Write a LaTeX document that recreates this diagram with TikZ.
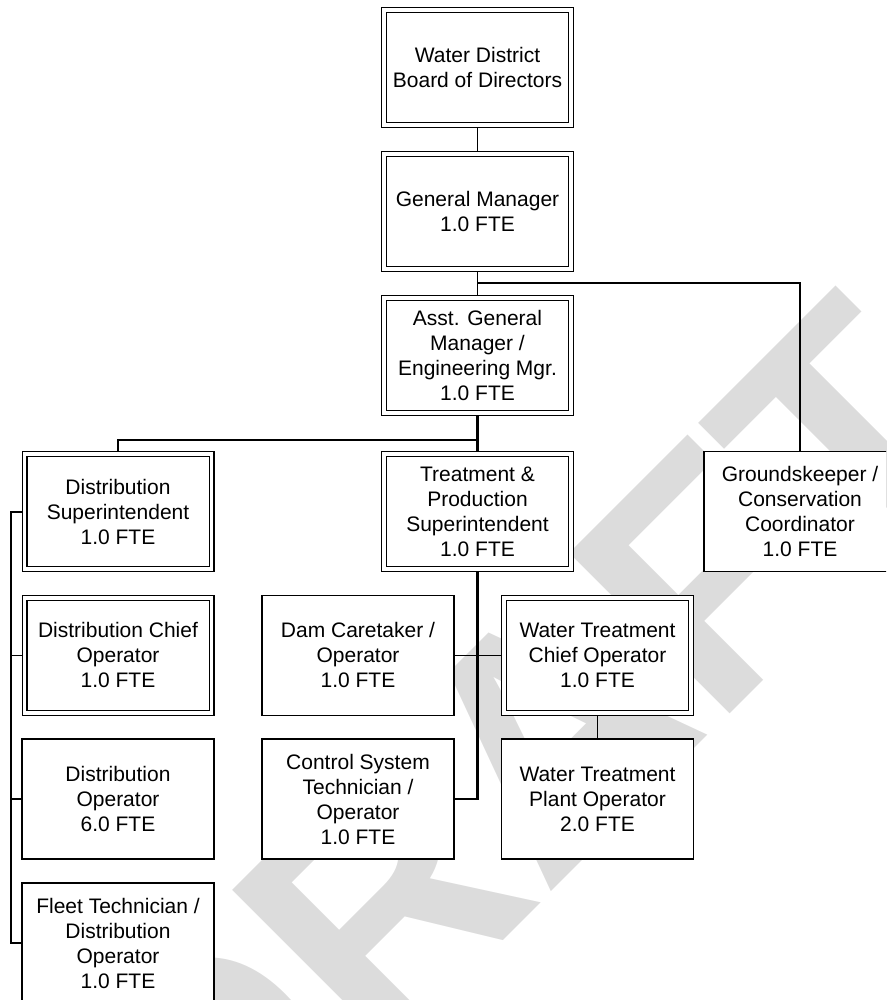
\documentclass[tikz,border=0pt]{standalone}
\usepackage{fontspec}
\setmainfont{Liberation Sans}
\pgfdeclarelayer{watermark}
\pgfdeclarelayer{wires}
\pgfsetlayers{watermark,wires,main}
\definecolor{wmgray}{RGB}{220,220,220}
\begin{document}
\begin{tikzpicture}[x=1pt,y=-1pt,
  every node/.style={font=\fontsize{21}{25}\selectfont, align=center},
  single/.style={draw, fill=white, line width=1.5pt, minimum width=192pt,
    minimum height=120pt, inner sep=0pt},
  twin/.style={draw, fill=white, double, double distance=3.6pt, line width=1.2pt,
    minimum width=187pt, minimum height=115pt, inner sep=0pt},
  wire/.style={line width=1.5pt},
  trunk/.style={line width=2.2pt}]
\clip (0,0) rectangle (886,1000);

% positions of the boxes
\node[twin]   (board)   at (477.5,67.8)  {Water District\\Board of Directors};
\node[twin]   (gm)      at (477.5,211.7) {General Manager\\1.0 FTE};
\node[twin]   (agm)     at (477.5,355.7) {Asst. General\\Manager /\\Engineering Mgr.\\1.0 FTE};
\node[twin]   (dsup)    at (118,511.7)   {Distribution\\Superintendent\\1.0 FTE};
\node[twin]   (tps)     at (477.5,511.7) {Treatment \&\\Production\\Superintendent\\1.0 FTE};
\node[single] (gk)      at (800,511.5)   {Groundskeeper /\\Conservation\\Coordinator\\1.0 FTE};
\node[twin]   (dchief)  at (118,655.3)   {Distribution Chief\\Operator\\1.0 FTE};
\node[single] (dam)     at (358,655.3)   {Dam Caretaker /\\Operator\\1.0 FTE};
\node[twin]   (wtchief) at (597.5,655.3) {Water Treatment\\Chief Operator\\1.0 FTE};
\node[single] (dop)     at (118,799)     {Distribution\\Operator\\6.0 FTE};
\node[single] (csys)    at (358,799)     {Control System\\Technician /\\Operator\\1.0 FTE};
\node[single] (wtplant) at (597.5,799)   {Water Treatment\\Plant Operator\\2.0 FTE};
\node[single] (fleet)   at (118,943)     {Fleet Technician /\\Distribution\\Operator\\1.0 FTE};

% reporting lines, kept behind the boxes
\begin{pgfonlayer}{wires}
\coordinate (j1) at (477.5,283);
\coordinate (j2) at (477.5,440);
\coordinate (lt) at (11,511.7);
\coordinate (lb) at (11,943);
\coordinate (tb) at (477.5,799);
\draw[wire] (board.south) -- (gm.north);
\draw[wire] (gm.south) -- (agm.north);
\draw[wire] (j1) -| (gk.north);
\draw[trunk] (agm.south) -- (tps.north);
\draw[wire] (j2) -| (dsup.north);
\draw[trunk] (dsup.west) -- (lt) -- (lb) -- (fleet.west);
\draw[wire] (dchief.west) -- (dchief.west -| lt);
\draw[wire] (dop.west) -- (dop.west -| lt);
\draw[trunk] (tps.south) -- (tb) -- (csys.east);
\draw[wire] (dam.east) -- (wtchief.west);
\draw[wire] (wtchief.south) -- (wtplant.north);
\end{pgfonlayer}

% watermark
\begin{pgfonlayer}{watermark}
\node[text=wmgray, font=\bfseries\fontsize{330}{330}\selectfont, rotate=45] (wm) at (524,759) {DRAFT};
\end{pgfonlayer}
\end{tikzpicture}
\end{document}
